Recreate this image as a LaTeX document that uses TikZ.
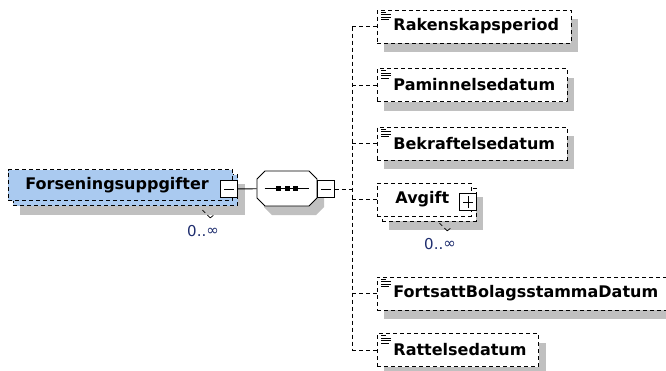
\documentclass[tikz,border=0pt]{standalone}
\usepackage{fontspec}
\setmainfont{DejaVu Sans}
\usetikzlibrary{positioning,
    shadows,
    calc}

\definecolor{elemblue}{RGB}{170,202,240}
\definecolor{shadowgray}{RGB}{192,192,192}
\definecolor{occblue}{RGB}{30,45,110}

\newcommand\simpleicon[1]{%
  \draw[line width = 0.8pt, solid]
    ($(#1.north west)+(4,2.5)$) -- ++(5,0)
    ($(#1.north west)+(4,5)$) -- ++(10,0)
    ($(#1.north west)+(4,7.5)$) -- ++(10,0)
    ($(#1.north west)+(4,10)$) -- ++(8,0);}

\begin{document}
\begin{tikzpicture} [x = 1pt, y = -1pt,
    line width = 0.9pt,
    dsh/.style = {dash pattern = on 4pt off 3pt},
    box/.style = {draw, dsh, anchor = west, inner ysep = 0pt,
        inner xsep = 12pt, minimum height = 33pt,
        font = \fontsize{16pt}{19pt}\selectfont\bfseries},
    single/.style = {box, fill = white,
        general shadow = {fill = shadowgray, shadow xshift = 7pt, shadow yshift = -9pt}},
    multi/.style = {box, fill = #1,
        general shadow = {fill = shadowgray, shadow xshift = 12pt, shadow yshift = -14pt},
        general shadow = {draw, dsh, fill = #1, shadow xshift = 5pt, shadow yshift = -5pt}},
    seq/.style = {minimum width = 60pt, minimum height = 35pt, inner sep = 0pt},
    tog/.style = {draw, solid, fill = white, minimum width = 17pt,
        minimum height = 17pt, inner sep = 0pt},
    minus/.style = {tog, path picture = {
        \draw ([xshift = -5pt]path picture bounding box.center)
           -- ([xshift = 5pt]path picture bounding box.center);}},
    plus/.style = {tog, path picture = {
        \draw ([xshift = -5pt]path picture bounding box.center)
           -- ([xshift = 5pt]path picture bounding box.center);
        \draw ([yshift = -6pt]path picture bounding box.center)
           -- ([yshift = 6pt]path picture bounding box.center);}},
    occ/.style = {inner sep = 0pt, text = occblue,
        font = \fontsize{15pt}{18pt}\selectfont},
    link/.style = {dsh, line width = 0.7pt}]
\useasboundingbox (0,0) rectangle (666,370);

\node[multi = elemblue, minimum height = 31pt, inner xsep = 17pt] (fors) at (8,185)
    {Forseningsuppgifter\hspace*{7pt}};
\node[minus] (m1) at (229,189) {};
\node[occ] (occ1) at (203,231) {0..\raisebox{0.5pt}{∞}};

\node[seq] (seq) at (287,188.5) {};
\path[fill = shadowgray, shift = {($(seq.center)+(7,9)$)}]
    (-22,-17.5) -- (22,-17.5) -- (30,-9.5) -- (30,9.5) -- (22,17.5)
    -- (-22,17.5) -- (-30,9.5) -- (-30,-9.5) -- cycle;
\draw[fill = white, shift = {(seq.center)}]
    (-22,-17.5) -- (22,-17.5) -- (30,-9.5) -- (30,9.5) -- (22,17.5)
    -- (-22,17.5) -- (-30,9.5) -- (-30,-9.5) -- cycle;
\draw ([xshift = 8pt]seq.west) -- ([xshift = -8pt]seq.east);
\foreach \dx in {-9, 0, 8}
    \fill ($(seq.center)+(\dx,0)$) +(-2.5,-2.5) rectangle +(2.5,2.5);
\node[minus] (m2) at (326,189) {};
\coordinate (trunk) at (352,189);

\node[single] (rak) at (377,26.5) {\hspace*{4pt}Rakenskapsperiod};
\node[single] (pam) at (377,85) {\hspace*{4pt}Paminnelsedatum};
\node[single] (bek) at (377,143.5) {\hspace*{4pt}Bekraftelsedatum};
\node[multi = white] (avg) at (377,199.5) {\hspace*{6pt}Avgift\hspace*{10pt}};
\node[plus] (p1) at (468,202) {};
\node[occ] (occ2) at (440,244) {0..\raisebox{0.5pt}{∞}};
\node[single] (fbd) at (377,293.5) {\hspace*{4pt}FortsattBolagsstammaDatum};
\node[single] (rat) at (377,350) {\hspace*{4pt}Rattelsedatum};

\foreach \n in {rak, pam, bek, fbd, rat}
    \simpleicon{\n};

\draw (m1) -- (seq);
\draw[dsh] (m2) -- (trunk);
\draw[dsh] (trunk |- rak) -- (trunk |- rat);
\foreach \n in {rak, pam, bek, avg, fbd, rat}
    \draw[dsh] (trunk |- \n) -- (\n.west);

\draw[link] ($(occ1.north east)+(-9,-7)$) -- ++(-8,-8)
    ($(occ1.north east)+(-9,-7)$) -- ++(5,-4);
\draw[link] ($(occ2.north east)+(-9,-7)$) -- ++(-8,-8)
    ($(occ2.north east)+(-9,-7)$) -- ++(5,-4);
\end{tikzpicture}
\end{document}
